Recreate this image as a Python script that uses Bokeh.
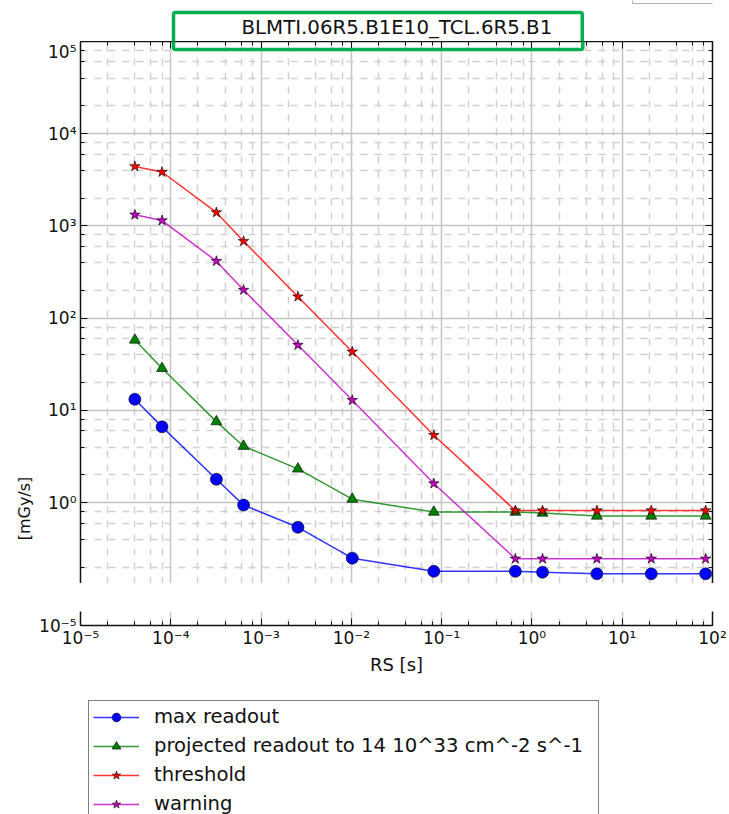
import math
from bokeh.plotting import figure
from bokeh.models import (FixedTicker, LogAxis, Label, Legend, LegendItem,
                          CustomJSTickFormatter, Range1d)
from bokeh.layouts import column, row
from bokeh.embed import file_html
from bokeh.resources import INLINE

# ---------------- data ----------------
rs_seconds = [4.0e-5, 8.0e-5, 3.2e-4, 6.4e-4, 2.56e-3, 1.024e-2, 8.192e-2,
              0.65536, 1.31072, 5.24288, 20.97152, 83.88608]
max_readout = [13.2, 6.63, 1.79, 0.94, 0.54, 0.25, 0.18, 0.18, 0.176, 0.169, 0.169, 0.169]
projected_readout = [58.0, 28.6, 7.55, 4.09, 2.32, 1.09, 0.79, 0.79, 0.77, 0.716, 0.716, 0.716]
threshold = [4420, 3845, 1400, 684, 171, 43.2, 5.38, 0.82, 0.82, 0.82, 0.82, 0.82]
warning = [1321, 1145, 415, 202, 51.1, 12.9, 1.61, 0.246, 0.246, 0.246, 0.246, 0.246]

series_labels = ["max readout", "projected readout to 14 10^33 cm^-2 s^-1", "threshold", "warning"]
series_colors = ["#0000ff", "#008000", "#ff0000", "#bf00bf"]
series_markers = ["circle", "triangle", "star", "star"]

title_text = "BLMTI.06R5.B1E10_TCL.6R5.B1"
x_label = "RS [s]"
y_label = "[mGy/s]"

x_tick_values = [1e-5, 1e-4, 1e-3, 1e-2, 1e-1, 1e0, 1e1, 1e2]
x_tick_labels = ["10\u207b\u2075", "10\u207b\u2074", "10\u207b\u00b3", "10\u207b\u00b2",
                 "10\u207b\u00b9", "10\u2070", "10\u00b9", "10\u00b2"]
y_tick_values = [1e0, 1e1, 1e2, 1e3, 1e4, 1e5]
y_tick_labels = ["10\u2070", "10\u00b9", "10\u00b2", "10\u00b3", "10\u2074", "10\u2075"]
y_low_tick_values = [1e-5]
y_low_tick_labels = ["10\u207b\u2075"]

minor_subs = [2, 4, 6, 8]
x_minor = [s * 10.0 ** k for k in range(-5, 2) for s in minor_subs]
y_minor = [s * 10.0 ** k for k in range(-1, 5) for s in minor_subs]

FONT = "DejaVu Sans"
TITLE_FS = "19.8px"
TOTAL_W, TOTAL_H = 729, 814
STRIP_W = 34                     # left strip holding the y label
COL_W = TOTAL_W - STRIP_W
FRAME_LEFT = 80                  # page x of all frames (column frames are aligned)
LEFT = FRAME_LEFT - STRIP_W
RIGHT = 17
TITLE_H = 41
TOP_H = 583 - TITLE_H
BOT_H = 692 - 583
LEG_H = TOTAL_H - 692
GRID_MAJOR = "#c4c4c4"
GRID_MINOR = "#d0d0d0"
BOX_LEFT, BOX_TOP, BOX_W = 173, 12, 409
BOX_PAD = dict(left=68, right=30, top=3, bottom=11)


def fmt(vals, labs):
    return CustomJSTickFormatter(args=dict(vals=vals, labs=labs), code="""
        for (let i = 0; i < vals.length; i++) {
            if (Math.abs(Math.log10(tick) - Math.log10(vals[i])) < 1e-6) return labs[i];
        }
        return "";
    """)


def style_axis(ax, labels=True):
    ax.axis_line_color = "#111111"
    ax.axis_line_width = 1.5
    ax.major_tick_in = 7
    ax.major_tick_out = 0
    ax.minor_tick_in = 4
    ax.minor_tick_out = 0
    ax.major_tick_line_color = "#111111"
    ax.minor_tick_line_color = "#111111"
    ax.major_tick_line_width = 1
    ax.minor_tick_line_width = 1
    ax.major_label_text_font = FONT
    if labels:
        ax.major_label_text_font_size = "17px"
        ax.major_label_text_color = "#111111"
        ax.major_label_standoff = 4
    else:
        ax.major_label_text_font_size = "1px"
        ax.major_label_text_color = None
        ax.major_label_standoff = 0


def add_series(p):
    out = []
    data = [max_readout, projected_readout, threshold, warning]
    sizes = [12, 11, 11, 11]
    for ys, c, m, s in zip(data, series_colors, series_markers, sizes):
        l = p.line(rs_seconds, ys, line_color=c, line_width=1.5, line_alpha=0.8)
        sc = p.scatter(rs_seconds, ys, marker=m, size=s, fill_color=c,
                       line_color="#000000", line_width=0.6)
        out.append((l, sc))
    return out


def style_grid(p, ticker, dim):
    g = p.xgrid if dim == "x" else p.ygrid
    g.ticker = ticker
    g.grid_line_color = GRID_MAJOR
    g.grid_line_width = 1.5
    g.minor_grid_line_color = GRID_MINOR
    g.minor_grid_line_width = 1.5
    g.minor_grid_line_dash = "7 7"


def plain(f):
    f.xgrid.visible = False
    f.ygrid.visible = False
    f.outline_line_color = None
    f.background_fill_color = "white"
    f.border_fill_color = "white"
    return f


# ---------------- left strip with the y label ----------------
strip = plain(figure(width=STRIP_W, height=TOTAL_H, x_range=Range1d(0, 1), y_range=Range1d(0, 1),
                     x_axis_location=None, y_axis_location=None, output_backend="svg",
                     toolbar_location=None, min_border=0))
strip.add_layout(Label(x=24, y=TOTAL_H - 508, x_units="screen", y_units="screen",
                       text=y_label, angle=math.pi / 2, text_font=FONT, text_font_size="16px",
                       text_color="#111111", text_align="center", text_baseline="middle"))

# ---------------- title strip (frame aligned with the panels below) ----------------
tfig = plain(figure(width=COL_W, height=TITLE_H, x_range=Range1d(0, 1), y_range=Range1d(0, 1),
                    x_axis_location=None, y_axis_location=None, output_backend="svg",
                    toolbar_location=None, min_border_left=LEFT, min_border_right=RIGHT,
                    min_border_top=0, min_border_bottom=0))
tfig.add_layout(Label(x=BOX_LEFT - FRAME_LEFT, y=TITLE_H - BOX_TOP, x_units="screen", y_units="screen",
                      text=title_text, text_font=FONT, text_font_size=TITLE_FS, text_color="#111111",
                      text_align="left", text_baseline="top", padding=BOX_PAD,
                      border_line_color="#00b050", border_line_width=3.5, border_radius=2))
tfig.add_layout(Label(x=632 - FRAME_LEFT, y=TITLE_H - 3, x_units="screen", y_units="screen",
                      text=" ", text_font_size="10px", text_align="left", text_baseline="bottom",
                      padding=dict(left=0, right=130, top=30, bottom=0),
                      border_line_color="#b4b4b4", border_line_width=1))

# ---------------- top panel ----------------
top = figure(width=COL_W, height=TOP_H, x_axis_type="log", y_axis_type="log",
             x_range=Range1d(1e-5, 1e2), y_range=Range1d(10 ** -0.877, 1e5),
             x_axis_location=None, output_backend="svg", toolbar_location=None,
             min_border_left=LEFT, min_border_right=RIGHT, min_border_top=0,
             min_border_bottom=0)
top.outline_line_color = None
top.background_fill_color = "white"
top.border_fill_color = "white"

yl = top.yaxis[0]
yl.ticker = FixedTicker(ticks=y_tick_values, minor_ticks=y_minor)
yl.formatter = fmt(y_tick_values, y_tick_labels)
style_axis(yl)

ax_top = LogAxis(ticker=FixedTicker(ticks=x_tick_values, minor_ticks=x_minor))
style_axis(ax_top, labels=False)
top.add_layout(ax_top, "above")

ax_right = LogAxis(ticker=FixedTicker(ticks=y_tick_values, minor_ticks=y_minor))
style_axis(ax_right, labels=False)
top.add_layout(ax_right, "right")

style_grid(top, FixedTicker(ticks=x_tick_values, minor_ticks=x_minor), "x")
style_grid(top, FixedTicker(ticks=y_tick_values, minor_ticks=y_minor), "y")

add_series(top)
# lower part of the green box, which overlaps the top of the frame (frame bottom at page y 583);
# a blank text with padding gives the same box size as the title box
top.add_layout(Label(x=BOX_LEFT - FRAME_LEFT, y=583 - BOX_TOP, x_units="screen", y_units="screen",
                     text=" ", text_font=FONT, text_font_size=TITLE_FS,
                     text_align="left", text_baseline="top",
                     padding=dict(left=68, right=BOX_W - 68 - 6, top=3, bottom=11),
                     border_line_color="#00b050", border_line_width=3.5, border_radius=2))

# ---------------- bottom panel ----------------
bot = figure(width=COL_W, height=BOT_H, x_axis_type="log", y_axis_type="log",
             x_range=top.x_range, y_range=Range1d(1e-5, 1.25e-5),
             output_backend="svg", toolbar_location=None,
             min_border_left=LEFT, min_border_right=RIGHT, min_border_top=611 - 583,
             min_border_bottom=692 - 625)
bot.outline_line_color = None
bot.background_fill_color = "white"
bot.border_fill_color = "white"

xb = bot.xaxis[0]
xb.ticker = FixedTicker(ticks=x_tick_values, minor_ticks=x_minor)
xb.formatter = fmt(x_tick_values, x_tick_labels)
style_axis(xb)
xb.major_label_standoff = 2
xb.axis_label = x_label
xb.axis_label_text_font = FONT
xb.axis_label_text_font_size = "18px"
xb.axis_label_text_font_style = "normal"
xb.axis_label_text_color = "#111111"
xb.axis_label_standoff = 3

ylb = bot.yaxis[0]
ylb.ticker = FixedTicker(ticks=y_low_tick_values, minor_ticks=[])
ylb.formatter = fmt(y_low_tick_values, y_low_tick_labels)
style_axis(ylb)

axr2 = LogAxis(ticker=FixedTicker(ticks=y_low_tick_values, minor_ticks=[]))
style_axis(axr2, labels=False)
bot.add_layout(axr2, "right")

style_grid(bot, FixedTicker(ticks=x_tick_values, minor_ticks=x_minor), "x")
bot.ygrid.grid_line_color = None
bot.ygrid.minor_grid_line_color = None

add_series(bot)

# ---------------- legend strip ----------------
lfig = figure(width=COL_W, height=LEG_H, x_range=Range1d(-10, -9), y_range=Range1d(-10, -9),
              x_axis_location=None, y_axis_location=None, output_backend="svg",
              toolbar_location=None, min_border_left=LEFT, min_border_right=RIGHT,
              min_border_top=0, min_border_bottom=0)
plain(lfig)
pairs = add_series(lfig)

legend = Legend(items=[LegendItem(label=lab, renderers=list(pr)) for lab, pr in zip(series_labels, pairs)],
                location="top_left",
                label_text_font=FONT, label_text_font_size="19.6px", label_text_color="#111111",
                glyph_width=46, glyph_height=22, label_height=22, label_width=440, label_standoff=15,
                spacing=6, padding=4, margin=8,
                border_line_color="#000000", border_line_width=1,
                background_fill_color="white", background_fill_alpha=1)
lfig.add_layout(legend)

layout = row(strip, column(tfig, top, bot, lfig, spacing=0), spacing=0)
open("out.html", "w").write(file_html(layout, INLINE))
